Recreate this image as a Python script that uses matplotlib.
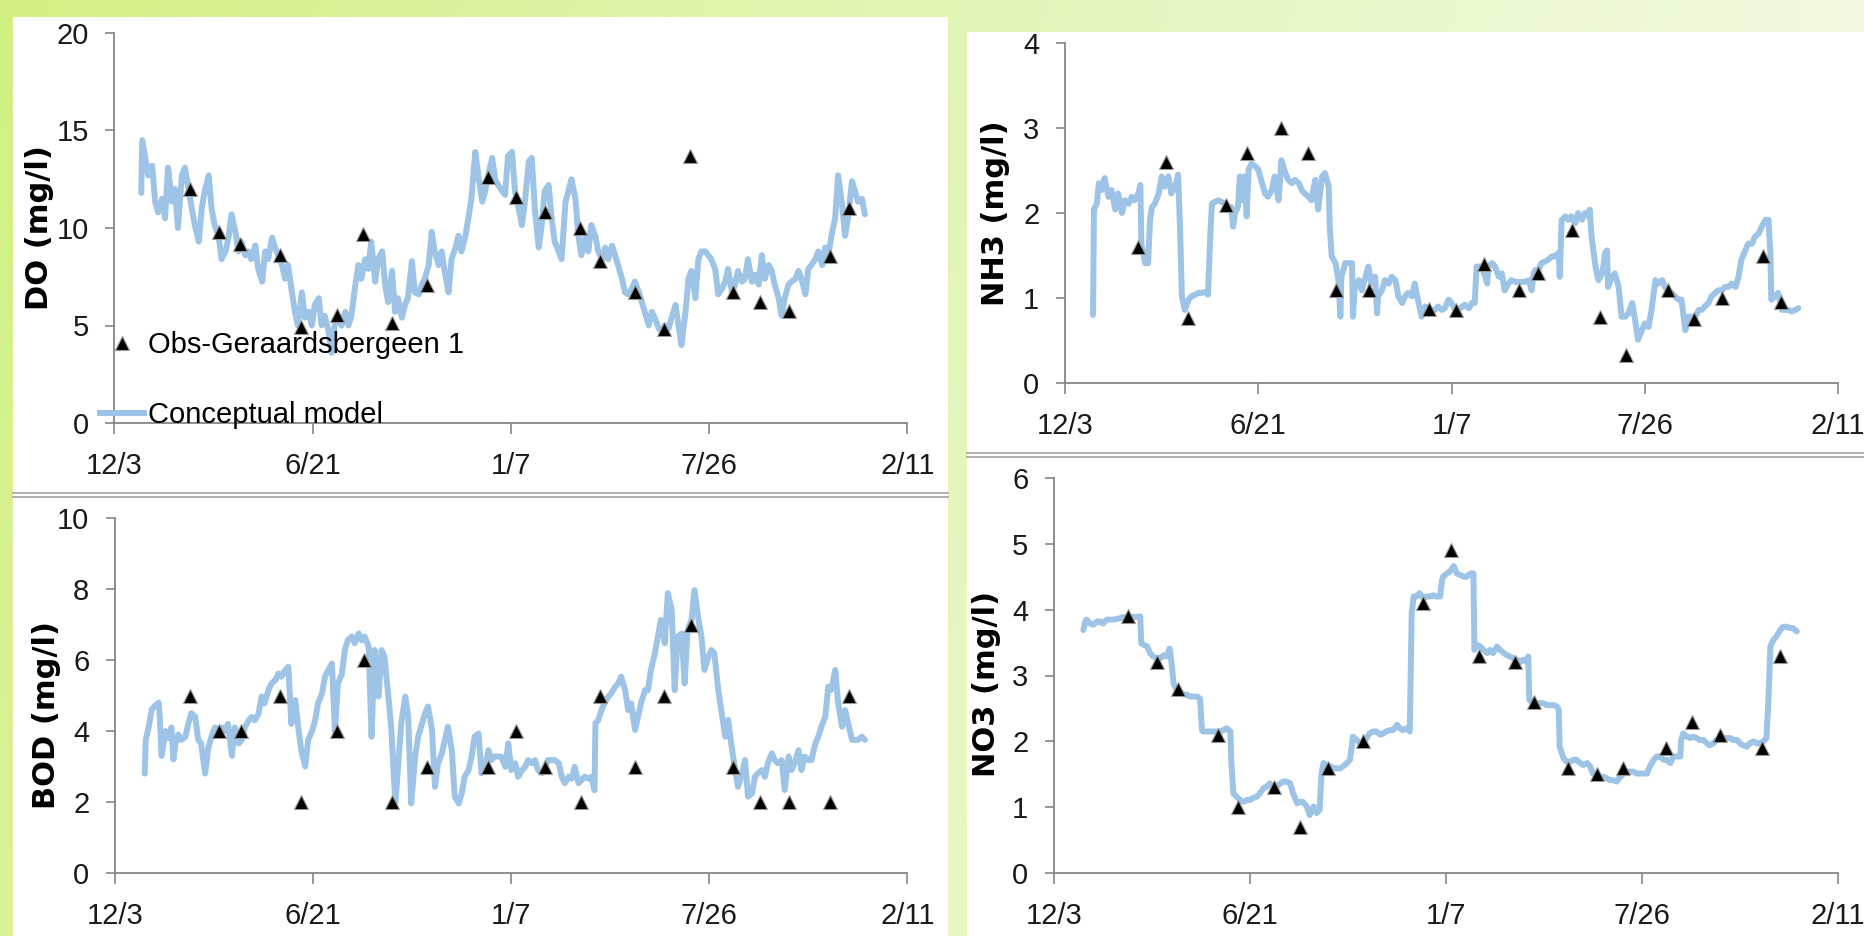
import numpy as np
import matplotlib
matplotlib.use('Agg')
import matplotlib.pyplot as plt
from matplotlib.patches import Rectangle
from matplotlib.lines import Line2D

# ---------------- data ----------------
x_ticks = [0, 200, 400, 600, 800]
x_labels = ['12/3', '6/21', '1/7', '7/26', '2/11']

obs_days = [76, 105, 127, 167, 188, 224, 251, 280, 315, 377, 405,
            434, 470, 490, 525, 554, 581, 624, 651, 680, 722, 741]
do_obs = [12.0, 9.8, 9.2, 8.6, 4.9, 5.55, 9.7, 5.15, 7.1, 12.6, 11.6,
          10.8, 10.0, 8.3, 6.7, 4.8, 13.7, 6.7, 6.2, 5.75, 8.55, 11.0]
bod_obs = [5, 4, 4, 5, 2, 4, 6, 2, 3, 3, 4, 3, 2, 5, 3, 5, 7, 3, 2, 2, 2, 5]
nh3_obs = [1.6, 2.6, 0.77, 2.1, 2.7, 3.0, 2.7, 1.1, 1.1, 0.87, 0.86,
           1.4, 1.1, 1.3, 1.8, 0.78, 0.33, 1.1, 0.75, 1.0, 1.5, 0.95]
no3_obs = [3.9, 3.2, 2.8, 2.1, 1.0, 1.3, 0.7, 1.6, 2.0, 4.1, 4.9,
           3.3, 3.2, 2.6, 1.6, 1.5, 1.6, 1.9, 2.3, 2.1, 1.9, 3.3]

do_days = [27, 28, 31, 34, 38, 41, 44, 48, 51, 54,
           58, 61, 64, 68, 71, 75, 78, 81, 85, 88,
           91, 95, 98, 101, 105, 108, 112, 115, 118, 122,
           125, 128, 132, 135, 138, 142, 145, 149, 152, 155,
           159, 162, 165, 169, 172, 175, 179, 182, 185, 189,
           192, 196, 199, 202, 206, 209, 212, 216, 219, 222,
           226, 229, 233, 236, 239, 243, 246, 249, 253, 256,
           259, 263, 266, 270, 273, 276, 280, 283, 286, 290,
           293, 296, 300, 303, 307, 310, 313, 317, 320, 323,
           327, 330, 333, 337, 340, 344, 347, 350, 354, 357,
           360, 364, 367, 371, 374, 377, 381, 384, 387, 391,
           394, 397, 401, 404, 407, 411, 414, 418, 421, 424,
           428, 431, 434, 438, 441, 444, 448, 451, 455, 458,
           461, 465, 468, 471, 475, 478, 481, 485, 488, 492,
           495, 498, 502, 505, 508, 512, 515, 518, 522, 525,
           529, 532, 535, 539, 542, 545, 549, 552, 555, 559,
           562, 566, 569, 572, 576, 579, 582, 586, 589, 592,
           596, 599, 602, 606, 609, 613, 616, 619, 623, 626,
           629, 633, 636, 639, 643, 646, 650, 653, 656, 660,
           663, 666, 670, 673, 676, 680, 683, 687, 690, 693,
           697, 700, 703, 707, 710, 714, 717, 720, 724, 727,
           730, 734, 737, 740, 744, 747, 750, 754, 757]
do_model = [11.8, 14.5, 13.6, 12.7, 13.2, 11.35, 10.8, 11.5, 10.5, 13.1,
            11.35, 12.0, 10.0, 12.7, 13.1, 11.9, 11.0, 10.15, 9.3, 11.0,
            11.9, 12.7, 11.0, 10.15, 9.6, 8.4, 8.8, 9.5, 10.7, 9.8,
            8.8, 9.3, 8.6, 8.8, 8.4, 9.1, 7.9, 7.25, 8.8, 8.4,
            9.5, 9.0, 8.6, 8.1, 7.4, 8.1, 6.7, 5.7, 5.0, 6.7,
            5.4, 5.7, 5.0, 6.05, 6.4, 5.0, 5.5, 4.7, 3.6, 5.0,
            5.4, 5.0, 5.7, 5.0, 5.5, 7.1, 8.1, 7.4, 8.4, 7.9,
            9.3, 7.25, 8.4, 8.8, 7.1, 6.2, 7.8, 5.7, 6.4, 5.4,
            6.05, 6.4, 8.3, 6.7, 6.6, 7.1, 7.4, 8.1, 9.8, 8.8,
            8.1, 8.8, 7.8, 6.7, 8.4, 9.0, 9.6, 8.8, 9.6, 10.5,
            11.5, 13.9, 12.7, 11.35, 11.9, 12.7, 13.6, 12.5, 12.2, 11.9,
            11.7, 13.7, 13.9, 11.9, 11.2, 10.15, 11.35, 13.4, 13.6, 11.0,
            9.0, 10.15, 11.9, 12.2, 10.5, 9.3, 8.8, 8.4, 11.35, 11.9,
            12.5, 11.5, 9.6, 8.6, 9.5, 8.8, 10.15, 9.6, 8.8, 8.4,
            9.0, 8.4, 9.1, 8.6, 8.1, 7.4, 6.7, 6.6, 6.9, 7.25,
            6.7, 6.2, 5.7, 5.0, 5.7, 5.4, 4.85, 4.7, 5.0, 4.85,
            5.4, 6.05, 5.0, 4.0, 5.7, 7.4, 7.8, 6.4, 8.4, 8.8,
            8.8, 8.6, 8.4, 7.9, 6.6, 6.9, 7.25, 7.9, 6.7, 7.1,
            7.8, 7.25, 7.4, 8.4, 7.25, 7.6, 7.1, 8.6, 7.4, 8.1,
            7.8, 7.1, 6.4, 5.5, 6.4, 7.1, 7.25, 7.4, 7.8, 7.4,
            6.6, 7.9, 8.1, 8.4, 8.8, 8.1, 9.0, 8.6, 9.8, 10.5,
            12.7, 11.2, 9.6, 10.5, 12.4, 11.9, 11.35, 11.5, 10.7]

bod_days = [30, 31, 34, 37, 40, 44, 45, 47, 51, 54,
            57, 59, 61, 64, 67, 71, 74, 77, 81, 84,
            87, 91, 94, 98, 101, 104, 108, 111, 114, 118,
            121, 125, 128, 131, 135, 138, 141, 145, 148, 151,
            155, 158, 162, 165, 168, 172, 175, 178, 182, 185,
            188, 192, 195, 199, 202, 205, 209, 212, 215, 219,
            222, 225, 229, 232, 235, 239, 242, 246, 249, 252,
            256, 259, 262, 266, 269, 272, 276, 279, 283, 286,
            289, 293, 296, 299, 303, 306, 310, 313, 316, 320,
            323, 326, 330, 333, 336, 340, 343, 347, 350, 353,
            357, 360, 363, 367, 370, 373, 377, 380, 383, 387,
            390, 394, 397, 400, 404, 407, 411, 414, 417, 421,
            424, 427, 431, 434, 437, 441, 444, 448, 451, 454,
            458, 461, 464, 468, 471, 474, 478, 481, 484, 485,
            488, 491, 494, 498, 501, 505, 508, 511, 515, 518,
            521, 525, 528, 531, 535, 538, 541, 545, 548, 551,
            555, 558, 562, 565, 568, 572, 575, 578, 582, 585,
            589, 592, 595, 599, 602, 605, 609, 612, 616, 619,
            622, 626, 629, 632, 636, 639, 643, 646, 649, 653,
            656, 659, 663, 666, 669, 673, 676, 680, 683, 686,
            690, 693, 696, 700, 703, 707, 710, 713, 717, 720,
            723, 727, 730, 734, 737, 740, 744, 747, 750, 754,
            757]
bod_model = [2.8, 3.75, 4.1, 4.6, 4.7, 4.8, 4.5, 3.3, 4.0, 3.8,
             4.1, 3.2, 3.65, 3.9, 3.75, 3.84, 4.2, 4.5, 4.4, 3.75,
             3.65, 2.8, 3.5, 3.9, 4.1, 4.0, 4.1, 4.0, 4.2, 3.3,
             4.1, 3.65, 3.75, 4.1, 4.3, 4.4, 4.3, 4.5, 4.97, 4.78,
             5.16, 5.34, 5.44, 5.62, 5.53, 5.72, 5.81, 4.2, 4.87, 4.1,
             3.46, 3.0, 3.75, 4.0, 4.3, 4.78, 5.06, 5.53, 5.7, 5.9,
             4.0, 5.34, 5.6, 6.28, 6.56, 6.66, 6.47, 6.75, 6.56, 6.66,
             6.38, 3.84, 6.28, 4.97, 6.28, 6.09, 4.97, 4.03, 1.96, 3.09,
             4.22, 4.97, 4.4, 1.96, 3.28, 3.84, 4.22, 4.5, 4.69, 4.03,
             2.43, 3.09, 3.37, 3.75, 4.12, 3.46, 2.15, 1.96, 2.24, 2.71,
             2.9, 3.28, 3.84, 3.93, 2.81, 2.9, 3.46, 3.18, 3.28, 3.28,
             3.28, 2.99, 3.65, 2.9, 3.09, 2.71, 2.9, 2.99, 3.18, 3.09,
             3.18, 2.9, 2.81, 2.99, 3.18, 3.18, 3.18, 3.09, 2.71, 2.53,
             2.71, 2.66, 2.99, 2.53, 2.62, 2.71, 2.66, 2.71, 2.33, 4.22,
             4.31, 4.59, 4.78, 4.97, 5.06, 5.25, 5.34, 5.53, 5.15, 4.59,
             4.78, 4.03, 4.4, 4.78, 5.15, 5.15, 5.72, 6.19, 6.66, 7.13,
             6.47, 7.88, 7.41, 5.15, 6.66, 6.75, 5.34, 6.84, 7.13, 7.97,
             7.13, 6.66, 5.72, 6.09, 6.28, 6.19, 5.15, 4.59, 3.84, 4.31,
             3.65, 2.9, 2.43, 2.71, 3.18, 2.15, 2.24, 2.71, 2.81, 2.9,
             2.71, 3.09, 3.37, 3.18, 3.09, 3.18, 2.34, 3.28, 2.9, 3.09,
             3.46, 2.9, 3.28, 3.18, 3.18, 3.65, 3.84, 4.12, 4.4, 5.25,
             5.16, 5.72, 4.78, 4.12, 4.59, 4.22, 3.75, 3.75, 3.75, 3.84,
             3.75]

nh3_days = [29, 30, 31, 33, 35, 38, 41, 45, 48, 52,
            55, 59, 62, 66, 69, 72, 76, 78, 79, 83,
            86, 88, 90, 93, 97, 100, 103, 107, 110, 114,
            117, 119, 121, 124, 128, 131, 135, 138, 141, 145,
            148, 150, 152, 155, 159, 162, 166, 169, 172, 174,
            176, 179, 181, 183, 186, 188, 190, 193, 197, 200,
            204, 207, 210, 214, 217, 221, 224, 228, 231, 235,
            238, 242, 245, 248, 252, 255, 259, 262, 266, 269,
            273, 274, 276, 280, 283, 285, 286, 290, 293, 297,
            298, 300, 304, 307, 311, 314, 317, 321, 323, 324,
            328, 331, 335, 338, 342, 345, 349, 352, 355, 359,
            362, 366, 369, 373, 376, 380, 383, 386, 390, 393,
            397, 400, 404, 407, 411, 414, 418, 421, 424, 426,
            428, 431, 435, 437, 438, 442, 445, 449, 452, 455,
            459, 462, 466, 469, 473, 476, 480, 483, 485, 487,
            490, 493, 497, 500, 504, 507, 511, 512, 514, 518,
            521, 524, 528, 531, 535, 538, 542, 543, 545, 549,
            552, 556, 559, 561, 562, 566, 569, 573, 576, 580,
            583, 587, 590, 593, 597, 600, 604, 607, 611, 614,
            618, 621, 625, 628, 631, 635, 638, 642, 645, 649,
            652, 656, 659, 662, 666, 669, 673, 676, 680, 683,
            687, 690, 694, 697, 700, 704, 707, 711, 714, 718,
            721, 725, 728, 730, 731, 735, 738, 742, 745, 749,
            752, 756, 759]
nh3_model = [0.8, 2.04, 2.07, 2.11, 2.35, 2.27, 2.41, 2.19, 2.27, 2.04,
             2.23, 2.0, 2.15, 2.11, 2.19, 2.15, 2.23, 2.33, 1.64, 1.41,
             1.41, 1.92, 2.07, 2.11, 2.23, 2.43, 2.31, 2.43, 2.23, 2.31,
             2.45, 1.84, 1.02, 0.86, 0.98, 1.02, 1.04, 1.06, 1.06, 1.07,
             1.04, 1.64, 2.11, 2.13, 2.15, 2.13, 2.11, 2.04, 2.07, 1.84,
             2.0, 2.07, 2.43, 2.15, 2.43, 1.96, 2.51, 2.58, 2.55, 2.51,
             2.35, 2.23, 2.19, 2.27, 2.43, 2.15, 2.62, 2.47, 2.39, 2.35,
             2.39, 2.35, 2.27, 2.23, 2.19, 2.15, 2.39, 2.04, 2.43, 2.47,
             2.31, 1.84, 1.49, 1.41, 1.21, 0.78, 1.25, 1.41, 1.41, 1.41,
             0.78, 1.13, 1.21, 1.09, 1.25, 1.37, 1.17, 1.25, 0.82, 1.02,
             1.09, 1.21, 1.17, 1.25, 1.21, 1.02, 0.94, 1.02, 1.06, 1.02,
             1.17, 0.94, 0.78, 0.9, 0.86, 0.86, 0.86, 0.9, 0.86, 0.88,
             0.98, 0.94, 0.86, 0.86, 0.9, 0.92, 0.88, 0.94, 0.94, 1.37,
             1.37, 1.37, 1.25, 1.17, 1.37, 1.41, 1.37, 1.25, 1.29, 1.09,
             1.17, 1.21, 1.19, 1.19, 1.19, 1.19, 1.21, 1.09, 1.29, 1.33,
             1.33, 1.41, 1.43, 1.45, 1.49, 1.49, 1.53, 1.25, 1.92, 1.96,
             1.92, 1.96, 1.88, 2.0, 1.92, 2.0, 1.96, 2.04, 1.72, 1.37,
             1.21, 1.29, 1.53, 1.56, 1.13, 1.25, 1.29, 1.13, 0.78, 0.78,
             0.82, 0.94, 0.74, 0.51, 0.62, 0.7, 0.66, 0.86, 1.21, 1.17,
             1.21, 1.13, 1.06, 1.06, 1.02, 0.98, 0.98, 0.62, 0.78, 0.78,
             0.78, 0.86, 0.86, 0.9, 0.94, 1.02, 1.06, 1.09, 1.09, 1.13,
             1.13, 1.17, 1.13, 1.25, 1.45, 1.56, 1.64, 1.64, 1.72, 1.76,
             1.84, 1.92, 1.92, 1.53, 0.98, 1.02, 1.06, 0.86, 0.86, 0.86,
             0.84, 0.86, 0.88]

no3_days = [30, 32, 33, 37, 40, 44, 47, 50, 54, 57,
            61, 64, 67, 71, 74, 78, 81, 84, 88, 89,
            91, 95, 98, 101, 105, 108, 112, 115, 118, 120,
            122, 125, 129, 132, 135, 139, 142, 146, 149, 151,
            152, 156, 159, 163, 166, 169, 173, 176, 180, 181,
            183, 186, 190, 193, 197, 200, 203, 207, 210, 214,
            217, 220, 224, 227, 231, 234, 237, 241, 244, 248,
            251, 254, 258, 261, 265, 268, 271, 273, 275, 278,
            282, 285, 288, 292, 295, 299, 302, 305, 309, 312,
            316, 319, 322, 326, 329, 333, 336, 339, 343, 346,
            350, 353, 356, 360, 363, 365, 367, 370, 373, 377,
            380, 384, 387, 390, 394, 396, 397, 401, 404, 408,
            411, 414, 418, 421, 425, 428, 429, 431, 435, 438,
            442, 445, 448, 452, 455, 459, 462, 465, 469, 472,
            476, 479, 482, 484, 485, 489, 493, 496, 499, 503,
            506, 510, 513, 515, 516, 520, 523, 527, 530, 533,
            537, 540, 544, 547, 550, 554, 557, 561, 564, 567,
            571, 574, 578, 581, 584, 588, 591, 595, 598, 601,
            605, 608, 612, 615, 618, 622, 625, 629, 632, 635,
            639, 640, 642, 646, 649, 652, 656, 659, 663, 666,
            669, 673, 676, 680, 683, 686, 690, 693, 697, 700,
            703, 707, 710, 714, 717, 720, 724, 727, 729, 731,
            734, 737, 741, 744, 748, 751, 754, 758]
no3_model = [3.69, 3.82, 3.85, 3.79, 3.77, 3.82, 3.82, 3.79, 3.85, 3.85,
             3.85, 3.86, 3.87, 3.89, 3.89, 3.87, 3.89, 3.89, 3.9, 3.49,
             3.47, 3.44, 3.34, 3.29, 3.26, 3.26, 3.31, 3.29, 3.41, 3.19,
             2.88, 2.78, 2.73, 2.71, 2.71, 2.68, 2.68, 2.68, 2.65, 2.17,
             2.15, 2.15, 2.15, 2.15, 2.15, 2.15, 2.17, 2.2, 2.15, 1.67,
             1.21, 1.16, 1.11, 1.08, 1.11, 1.11, 1.14, 1.16, 1.21, 1.29,
             1.31, 1.36, 1.31, 1.31, 1.36, 1.39, 1.39, 1.36, 1.21, 1.06,
             1.08, 1.08, 1.01, 0.88, 1.01, 0.91, 0.96, 1.51, 1.67, 1.64,
             1.62, 1.59, 1.59, 1.59, 1.62, 1.67, 1.72, 2.07, 2.02, 1.97,
             2.0, 2.05, 2.12, 2.15, 2.15, 2.1, 2.12, 2.15, 2.17, 2.17,
             2.25, 2.2, 2.17, 2.2, 2.15, 3.95, 4.2, 4.2, 4.25, 4.17,
             4.2, 4.2, 4.22, 4.2, 4.2, 4.45, 4.5, 4.55, 4.58, 4.66,
             4.55, 4.53, 4.5, 4.5, 4.55, 4.55, 3.39, 3.47, 3.44, 3.39,
             3.34, 3.39, 3.34, 3.44, 3.39, 3.34, 3.31, 3.29, 3.26, 3.24,
             3.21, 3.24, 3.21, 3.29, 2.63, 2.58, 2.58, 2.58, 2.58, 2.55,
             2.55, 2.55, 2.53, 2.48, 1.92, 1.74, 1.69, 1.69, 1.72, 1.72,
             1.67, 1.64, 1.67, 1.62, 1.51, 1.51, 1.46, 1.46, 1.44, 1.41,
             1.41, 1.39, 1.46, 1.51, 1.54, 1.54, 1.54, 1.51, 1.51, 1.51,
             1.51, 1.62, 1.72, 1.77, 1.77, 1.72, 1.72, 1.67, 1.77, 1.77,
             1.77, 2.02, 2.12, 2.07, 2.05, 2.07, 2.05, 2.02, 2.02, 1.97,
             1.94, 1.97, 2.02, 2.02, 2.05, 2.05, 2.05, 2.02, 2.02, 1.97,
             1.94, 1.92, 1.97, 2.0, 1.97, 1.97, 2.0, 2.05, 2.63, 3.44,
             3.54, 3.59, 3.69, 3.74, 3.74, 3.72, 3.72, 3.67]

legend_labels = ['Obs-Geraardsbergeen 1', 'Conceptual model']

# ---------------- style ----------------
W, H = 1865, 936
LINE_C = '#9dc3e6'
AX_C = '#868686'
TICK_FONT = 'Liberation Sans'

fig = plt.figure(figsize=(W / 100, H / 100), dpi=100)

# background (green slide gradient) and white panels, in pixel coords
bg = fig.add_axes([0, 0, 1, 1], zorder=-10)
bg.set_xlim(0, W)
bg.set_ylim(H, 0)
bg.axis('off')
gx = np.linspace(0, 1, 300)
gy = np.linspace(0, 1, 150)
GX, GY = np.meshgrid(gx, gy)
c_l = np.array([208, 240, 130]) / 255.0
c_r = np.array([240, 250, 224]) / 255.0
t = (GX ** 0.9)[..., None]
img = c_l * (1 - t) + c_r * t
img = img + (1 - img) * 0.18 * GY[..., None]
bg.imshow(img, extent=[0, W, H, 0], aspect='auto', zorder=0, interpolation='bilinear')
bg.add_patch(Rectangle((13, 17), 935, H - 17, fc='white', ec='none', zorder=1))
bg.add_patch(Rectangle((967, 32), W - 967, H - 32, fc='white', ec='none', zorder=1))
for yy in (492.5, 496.5):
    bg.plot([13, 948], [yy, yy], color='#a8a8a8', lw=1.3, zorder=2)
for yy in (452.5, 456.5):
    bg.plot([967, W], [yy, yy], color='#a8a8a8', lw=1.3, zorder=2)


def make_ax(l, r, t, b, ymax, ystep):
    ax = fig.add_axes([l / W, 1 - b / H, (r - l) / W, (b - t) / H])
    ax.set_facecolor('none')
    for s in ('top', 'right'):
        ax.spines[s].set_visible(False)
    for s in ('left', 'bottom'):
        ax.spines[s].set_color(AX_C)
        ax.spines[s].set_linewidth(1.3)
    ax.set_xlim(0, 800)
    ax.set_ylim(0, ymax)
    ax.set_xticks(x_ticks)
    ax.set_xticklabels(x_labels)
    ax.set_yticks(np.arange(0, ymax + 0.001, ystep))
    ax.tick_params(axis='both', color=AX_C, width=1.2, labelcolor='#1a1a1a',
                   labelsize=21)
    ax.tick_params(axis='x', length=8, pad=13)
    ax.tick_params(axis='y', length=6.5, pad=12)
    for lab in ax.get_xticklabels() + ax.get_yticklabels():
        lab.set_fontfamily(TICK_FONT)
    return ax


def draw(ax, days, model, obs):
    ax.plot(days, model, color=LINE_C, lw=4.3, solid_joinstyle='round',
            solid_capstyle='round', zorder=2)
    ax.plot(obs_days, obs, ls='none', marker='^', ms=10, mfc='black',
            mec='#9a9a9a', mew=0.8, zorder=3)


ax_do = make_ax(114.5, 907.5, 33, 423, 20, 5)
draw(ax_do, do_days, do_model, do_obs)
ax_bod = make_ax(115, 907.5, 518, 873, 10, 2)
draw(ax_bod, bod_days, bod_model, bod_obs)
ax_nh3 = make_ax(1065, 1838, 43, 383, 4, 1)
draw(ax_nh3, nh3_days, nh3_model, nh3_obs)
ax_no3 = make_ax(1054, 1838, 478, 873, 6, 1)
draw(ax_no3, no3_days, no3_model, no3_obs)

# y-axis titles
for (px, py, txt) in [(40, 228, 'DO (mg/l)'), (47, 715, 'BOD (mg/l)'),
                      (996, 213, 'NH3 (mg/l)'), (987, 684, 'NO3 (mg/l)')]:
    fig.text(px / W, 1 - py / H, txt, rotation=90, ha='center', va='center',
             fontsize=22, fontweight='bold', family='DejaVu Sans', color='black')

# legend (in the DO panel, as in the original)
h_obs = Line2D([], [], ls='none', marker='^', ms=10, mfc='black', mec='#9a9a9a', mew=0.8)
h_mod = Line2D([], [], color=LINE_C, lw=4.3)
fig.legend([h_obs, h_mod], legend_labels, loc='upper left',
           bbox_to_anchor=(100 / W, 1 - 331 / H), frameon=False,
           prop={'family': TICK_FONT, 'size': 21}, handlelength=1.5,
           handletextpad=0.15, labelspacing=1.45, borderpad=0, borderaxespad=0,
           numpoints=1)

fig.savefig('out.png', dpi=100)
